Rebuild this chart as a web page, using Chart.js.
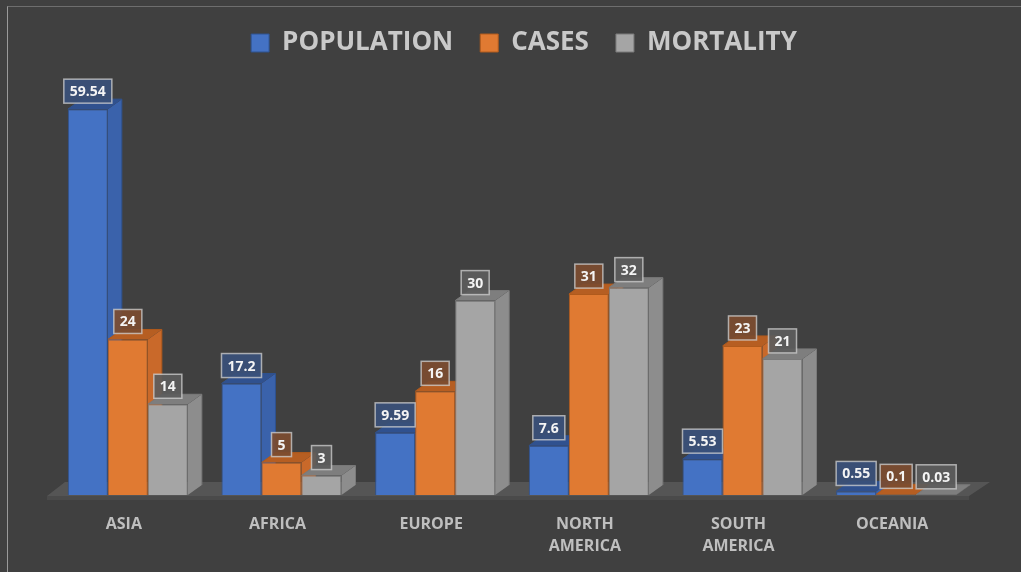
<!DOCTYPE html>
<html>
<head>
<meta charset="utf-8">
<title>Population, cases and mortality by region</title>
<style>
  html, body { margin: 0; padding: 0; background: #404040; }
  #wrap { position: relative; width: 1021px; height: 572px; background: #404040; overflow: hidden; }
  #frame { position: absolute; left: 7px; top: 6px; right: -2px; bottom: -2px;
           border-left: 1px solid #9a9a9a; border-top: 1px solid #6e6e6e; pointer-events: none; }
</style>
</head>
<body>
<div id="wrap">
  <canvas id="regionChart"></canvas>
  <div id="frame"></div>
</div>
<script src="https://cdn.jsdelivr.net/npm/chart.js"></script>
<script>
// share of world population, covid cases and deaths (%)
var regions = ['ASIA', 'AFRICA', 'EUROPE', ['NORTH', 'AMERICA'], ['SOUTH', 'AMERICA'], 'OCEANIA'];
var population = [59.54, 17.2, 9.59, 7.6, 5.53, 0.55];
var cases = [24, 5, 16, 31, 23, 0.1];
var mortality = [14, 3, 30, 32, 21, 0.03];

// front / side / top / label colours for each series
var shades = [
  { front: '#4472c4', edge: '#2f528f', side: '#3a62ab', top: '#30518f', label: 'rgba(58,80,122,0.92)' },
  { front: '#e07a32', edge: '#b05a1c', side: '#c9692a', top: '#b65e22', label: 'rgba(124,76,48,0.92)' },
  { front: '#a5a5a5', edge: '#7a7a7a', side: '#8d8d8d', top: '#7e7e7e', label: 'rgba(92,92,92,0.92)' }
];

var DX = 14, DY = -10;
var FONT = "'Open Sans', 'DejaVu Sans', sans-serif";

function poly(ctx, pts, fill) {
  ctx.beginPath();
  ctx.moveTo(pts[0][0], pts[0][1]);
  for (var i = 1; i < pts.length; i++) ctx.lineTo(pts[i][0], pts[i][1]);
  ctx.closePath();
  ctx.fillStyle = fill;
  ctx.fill();
}

// floor plus the side and top faces of every bar; the library then paints the fronts
var depthPlugin = {
  id: 'depth3d',
  beforeDatasetsDraw: function(chart) {
    var ctx = chart.ctx, area = chart.chartArea;
    var base = chart.scales.y.getPixelForValue(0);
    ctx.save();
    poly(ctx, [[area.left - 4, base + 1], [area.left + 14, base - 13],
               [area.right + 17, base - 13], [area.right - 4, base + 1]], '#555555');
    poly(ctx, [[area.left - 4, base + 1], [area.right - 4, base + 1],
               [area.right - 4, base + 5], [area.left - 4, base + 5]], '#4a4a4a');

    chart.data.datasets.forEach(function(ds, di) {
      var meta = chart.getDatasetMeta(di);
      var c = shades[di];
      meta.data.forEach(function(bar) {
        var x0 = bar.x - bar.width / 2, x1 = bar.x + bar.width / 2, t = bar.y;
        poly(ctx, [[x1, t], [x1 + DX, t + DY], [x1 + DX, base + DY], [x1, base]], c.side);
        poly(ctx, [[x0, t], [x0 + DX, t + DY], [x1 + DX, t + DY], [x1, t]], c.top);
        ctx.strokeStyle = c.edge;
        ctx.lineWidth = 1;
        ctx.beginPath();
        ctx.moveTo(x0, t); ctx.lineTo(x0 + DX, t + DY); ctx.lineTo(x1 + DX, t + DY);
        ctx.lineTo(x1 + DX, base + DY);
        ctx.stroke();
      });
    });
    ctx.restore();
  }
};

// boxed value labels above each bar
var labelPlugin = {
  id: 'boxLabels',
  afterDatasetsDraw: function(chart) {
    var ctx = chart.ctx;
    ctx.save();
    ctx.font = 'bold 14px ' + FONT;
    ctx.textAlign = 'center';
    ctx.textBaseline = 'middle';
    chart.data.datasets.forEach(function(ds, di) {
      var meta = chart.getDatasetMeta(di);
      meta.data.forEach(function(bar, i) {
        var txt = String(ds.data[i]);
        var w = ctx.measureText(txt).width + 12, h = 24;
        var bx = bar.x - w / 2, by = bar.y - 6 - h;
        ctx.fillStyle = shades[di].label;
        ctx.fillRect(bx, by, w, h);
        ctx.strokeStyle = 'rgba(210,210,210,0.75)';
        ctx.lineWidth = 1.5;
        ctx.strokeRect(bx, by, w, h);
        ctx.fillStyle = '#f4f4f4';
        ctx.fillText(txt, bar.x, by + h / 2 + 1);
      });
    });
    ctx.restore();
  }
};

// legend sits a little right of the canvas centre
var legendShift = {
  id: 'legendShift',
  afterLayout: function(chart) {
    chart.legend.left += 12;
    chart.legend.right += 12;
  }
};

function series(label, data, i) {
  return {
    label: label,
    data: data,
    backgroundColor: shades[i].front,
    borderColor: shades[i].edge,
    borderWidth: 1,
    categoryPercentage: 0.781,
    barPercentage: 1
  };
}

new Chart(document.getElementById('regionChart'), {
  type: 'bar',
  data: {
    labels: regions,
    datasets: [
      series('POPULATION', population, 0),
      series('CASES', cases, 1),
      series('MORTALITY', mortality, 2)
    ]
  },
  options: {
    responsive: true,
    maintainAspectRatio: false,
    animation: false,
    layout: { padding: { left: 51, right: 48, top: 3, bottom: 0 } },
    plugins: {
      tooltip: { enabled: false },
      legend: {
        position: 'top',
        labels: {
          color: '#c9c9c9',
          boxWidth: 18,
          boxHeight: 18,
          padding: 27,
          font: { family: FONT, size: 26, weight: 'bold' }
        }
      }
    },
    scales: {
      x: {
        grid: { display: false },
        border: { display: false },
        afterFit: function(scale) { scale.height = 77; },
        ticks: {
          color: '#bfbfbf',
          padding: 10,
          labelOffset: -4,
          maxRotation: 0,
          font: { family: FONT, size: 16, weight: 'bold', lineHeight: 1.4 }
        }
      },
      y: {
        display: false,
        min: 0,
        max: 66.2
      }
    }
  },
  plugins: [depthPlugin, labelPlugin, legendShift]
});
</script>
</body>
</html>
